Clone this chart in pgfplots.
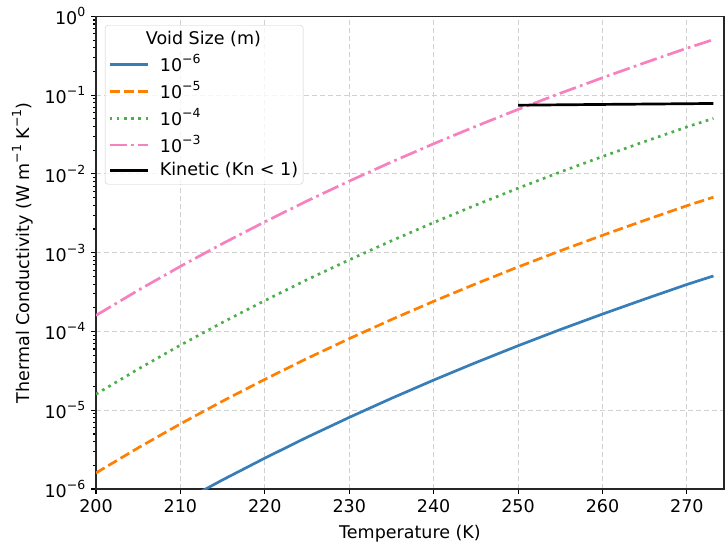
\documentclass[border=0pt]{standalone}
\usepackage{fontspec}
\setmainfont{DejaVu Sans}
\usepackage{pgfplots}
\pgfplotsset{compat=1.18}
\definecolor{cblue}{HTML}{377EB8}
\definecolor{corange}{HTML}{FF7F00}
\definecolor{cgreen}{HTML}{4DAF4A}
\definecolor{cpink}{HTML}{F781BF}
\newcommand\sups[1]{\raisebox{0.45em}{\fontsize{12.5bp}{12bp}\selectfont #1}}
\newcommand\fnt{\fontsize{17.5bp}{20bp}\selectfont}
\begin{document}
\fnt
\begin{tikzpicture}
\begin{axis}[name=ax,
  ymode=log, scale only axis, width=628bp, height=472.6bp,
  xmin=200, xmax=274.4, ymin=1e-6, ymax=1,
  xtick={200,210,...,270},
  ytick={1e-6,1e-5,1e-4,1e-3,1e-2,1e-1,1},
  yticklabels={10\sups{−6},10\sups{−5},10\sups{−4},10\sups{−3},10\sups{−2},10\sups{−1},10\sups{0}},
  minor ytick={2e-6,3e-6,4e-6,5e-6,6e-6,7e-6,8e-6,9e-6,
    2e-5,3e-5,4e-5,5e-5,6e-5,7e-5,8e-5,9e-5,
    2e-4,3e-4,4e-4,5e-4,6e-4,7e-4,8e-4,9e-4,
    2e-3,3e-3,4e-3,5e-3,6e-3,7e-3,8e-3,9e-3,
    2e-2,3e-2,4e-2,5e-2,6e-2,7e-2,8e-2,9e-2,
    0.2,0.3,0.4,0.5,0.6,0.7,0.8,0.9},
  tick align=outside, xtick pos=bottom, ytick pos=left,
  major tick length=4.7bp, minor tick length=2.7bp,
  every tick/.style={black, line width=1.1bp},
  axis line style={line width=1.1bp, black!85},
  grid=major,
  major grid style={black!18, dash pattern=on 5bp off 3bp, line width=1.1bp},
  minor grid style={draw=none},
  /pgf/number format/assume math mode=true,
  /pgf/number format/1000 sep={},
  ticklabel style={font=\fnt},
  label style={font=\fnt},
  xlabel={Temperature (K)},
  ylabel={Thermal Conductivity (W m\sups{−1} K\sups{−1})},
  legend cell align=left,
  legend image code/.code={\draw[#1] (0bp,0bp) -- (38bp,0bp);},
  legend style={at={(0,1)}, anchor=north west, xshift=9bp, yshift=-8.6bp,
    draw=black!20, rounded corners=3bp, fill=white, fill opacity=0.8,
    text opacity=1, draw opacity=1, row sep=3.3bp,
    inner ysep=4bp,
    /tikz/every odd column/.append style={column sep=9bp},
    font=\fnt},
]
\addlegendimage{empty legend}
\addlegendentry{\hspace{-14bp}Void Size (m)}
\addplot[cblue, line width=2.7bp, no markers] coordinates {
(200,1.600e-7) (205,3.334e-7) (210,6.71e-7) (215,1.306e-6) (220,2.466e-6)
(225,4.54e-6) (230,8.11e-6) (235,1.416e-5) (240,2.415e-5) (245,4.03e-5)
(250,6.59e-5) (255,1.057e-4) (260,1.663e-4) (265,2.576e-4) (270,3.95e-4) (273.15,5.07e-4)};
\addlegendentry{10\sups{−6}}
\addplot[corange, line width=2.7bp, no markers, dash pattern=on 10bp off 4.3bp] coordinates {
(200,1.600e-6) (205,3.334e-6) (210,6.71e-6) (215,1.306e-5) (220,2.466e-5)
(225,4.54e-5) (230,8.11e-5) (235,1.416e-4) (240,2.415e-4) (245,4.03e-4)
(250,6.59e-4) (255,1.057e-3) (260,1.663e-3) (265,2.576e-3) (270,3.95e-3) (273.15,5.07e-3)};
\addlegendentry{10\sups{−5}}
\addplot[cgreen, line width=2.7bp, no markers, dash pattern=on 2.7bp off 4.5bp] coordinates {
(200,1.600e-5) (205,3.334e-5) (210,6.71e-5) (215,1.306e-4) (220,2.466e-4)
(225,4.54e-4) (230,8.11e-4) (235,1.416e-3) (240,2.415e-3) (245,4.03e-3)
(250,6.59e-3) (255,1.057e-2) (260,1.663e-2) (265,2.576e-2) (270,3.95e-2) (273.15,5.07e-2)};
\addlegendentry{10\sups{−4}}
\addplot[cpink, line width=2.7bp, no markers, dash pattern=on 17.3bp off 4.3bp on 2.7bp off 4.3bp] coordinates {
(200,1.600e-4) (205,3.334e-4) (210,6.71e-4) (215,1.306e-3) (220,2.466e-3)
(225,4.54e-3) (230,8.11e-3) (235,1.416e-2) (240,2.415e-2) (245,4.03e-2)
(250,6.59e-2) (255,0.1057) (260,0.1663) (265,0.2576) (270,0.395) (273.15,0.507)};
\addlegendentry{10\sups{−3}}
\addplot[black, line width=2.7bp, no markers] coordinates {
(250,0.0746) (260,0.0763) (270,0.0779) (273.15,0.0785)};
\addlegendentry{Kinetic (Kn < 1)}
\end{axis}
\pgfresetboundingbox
\path (ax.south west) ++(-96bp,-57bp) rectangle ([xshift=1bp,yshift=16.4bp]ax.north east);
\end{tikzpicture}
\end{document}
